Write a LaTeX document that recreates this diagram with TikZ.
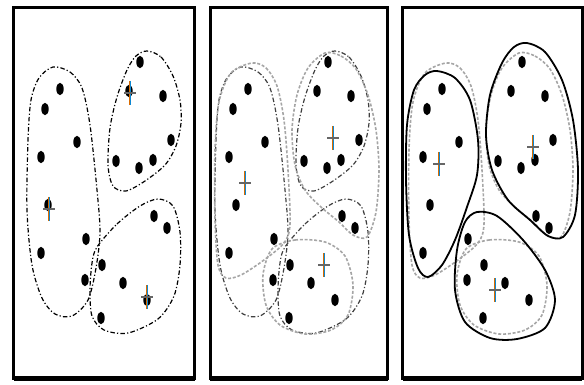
\documentclass[tikz,border=0pt]{standalone}
\usepackage{tikz}
\usetikzlibrary{calc}

\tikzset{
  khung/.style={line width=3pt},
  cumcu/.style={line width=1.2pt, dash pattern=on 4.5pt off 2.2pt on 1.2pt off 2.2pt},
  cummoi/.style={gray!70, line width=1.6pt, dash pattern=on 3pt off 1.8pt},
  cumchot/.style={black, line width=1.8pt},
  diem/.style={fill=black},
}

% tam cum: vach dung xanh/cam, vach ngang xam
\newcommand{\tamcum}[1]{%
  \draw[orange!85!black, line width=0.9pt] ($(#1)+(-0.5,-12)$) -- ($(#1)+(-0.5,12)$);
  \draw[cyan!70!blue, line width=0.7pt] ($(#1)+(0.5,-12)$) -- ($(#1)+(0.5,12)$);
  \draw[gray!80!black, line width=1.3pt] ($(#1)+(-6,0)$) -- ($(#1)+(6,0)$);
}

% cac cum ban dau (toa do khung 1)
\newcommand{\cumTrai}[1]{\draw[#1] plot[smooth cycle] coordinates {(53,67) (70,72) (82,88) (90,125) (97,190) (100,232) (96,268) (88,300) (72,316) (55,314) (42,298) (32,265) (27,210) (28,140) (31,100) (39,78)};}
\newcommand{\cumTren}[1]{\draw[#1] plot[smooth cycle] coordinates {(147,51) (161,57) (173,76) (180,100) (181,123) (176,146) (165,165) (145,181) (126,191) (113,186) (108,165) (110,128) (117,97) (127,70) (136,56)};}
\newcommand{\cumDuoi}[1]{\draw[#1] plot[smooth cycle] coordinates {(97,247) (117,224) (140,206) (158,199) (173,206) (180,232) (180,265) (174,296) (158,319) (128,333) (104,330) (92,316) (90,290) (92,263)};}

% cac cum sau buoc 1 (toa do khung 2)
\newcommand{\cumTraiMoi}[1]{\draw[#1] plot[smooth cycle] coordinates {(252,63) (266,68) (277,86) (284,120) (288,170) (290,224) (284,243) (264,260) (241,275) (226,278) (218,265) (215,220) (215,150) (219,102) (231,73)};}
\newcommand{\cumTrenMoi}[1]{\draw[#1] plot[smooth cycle] coordinates {(325,53) (341,56) (356,69) (368,95) (376,130) (379,170) (376,212) (367,237) (353,235) (339,222) (321,207) (305,190) (295,165) (292,130) (297,95) (308,68)};}
\newcommand{\cumDuoiMoi}[1]{\draw[#1] plot[smooth cycle] coordinates {(272,249) (295,240) (325,242) (345,256) (353,285) (348,315) (331,330) (305,334) (280,325) (266,305) (263,275)};}

\begin{document}
\begin{tikzpicture}[x=1pt, y=-1pt]
    \useasboundingbox (0,0) rectangle (584,385);

    % Khung
    \draw[khung] (13.5,8) rectangle (194.5,378.5);
    \draw[khung] (210,8) rectangle (387.5,378.5);
    \draw[khung] (402.5,8) rectangle (582,378.5);
    \foreach \a/\b in {13.5/194.5, 210/387.5, 402.5/582}
        \draw[line width=5pt] (\a,378) -- (\b,378);

    % Khung 1
    \cumTrai{cumcu}
    \cumTren{cumcu}
    \cumDuoi{cumcu}

    % Khung 2
    \begin{scope}[xshift=188pt]
        \cumTrai{cumcu, black!75}
        \cumTren{cumcu, black!75}
        \cumDuoi{cumcu, black!75}
    \end{scope}
    \cumTraiMoi{cummoi}
    \cumTrenMoi{cummoi}
    \cumDuoiMoi{cummoi}

    % Khung 3
    \begin{scope}[xshift=194pt]
        \cumTraiMoi{cummoi}
        \cumTrenMoi{cummoi}
        \cumDuoiMoi{cummoi}
    \end{scope}
    \draw[cumchot] plot[smooth cycle] coordinates {(437,71) (455,78) (470,100) (478,140) (477,175) (467,207) (455,240) (442,265) (428,277) (418,268) (409,235) (406,180) (407,125) (414,90) (425,75)};
    \draw[cumchot] plot[smooth cycle] coordinates {(527,43) (545,52) (562,80) (573,120) (578,170) (575,215) (563,237) (548,236) (530,220) (508,200) (492,170) (486,135) (490,95) (502,63) (514,47)};
    \draw[cumchot] plot[smooth cycle] coordinates {(477,212) (497,216) (523,240) (545,270) (555,300) (545,328) (517,339) (490,338) (465,322) (455,290) (457,250) (465,222)};

    % Cac diem du lieu
    \foreach \dx in {-188, 0, 194} {
        \foreach \x/\y in {248/89, 233/109, 265/142, 229/157, 236/205, 274/239, 229/253, 273/280, 289/318, 290/265, 311/283, 335/300, 342/216, 355/228, 328/62, 317/91, 351/96, 359/140, 304/161, 327/168, 341/160}
            \fill[diem] (\x+\dx,\y) ellipse (3.7 and 6.2);
    }

    % Tam cum
    \foreach \p in {{49,209}, {130,93}, {147,297}, {245,183}, {333,138}, {324,265}, {439,164}, {533,147}, {495,290}} {
        \tamcum{\p}
    }
\end{tikzpicture}
\end{document}
